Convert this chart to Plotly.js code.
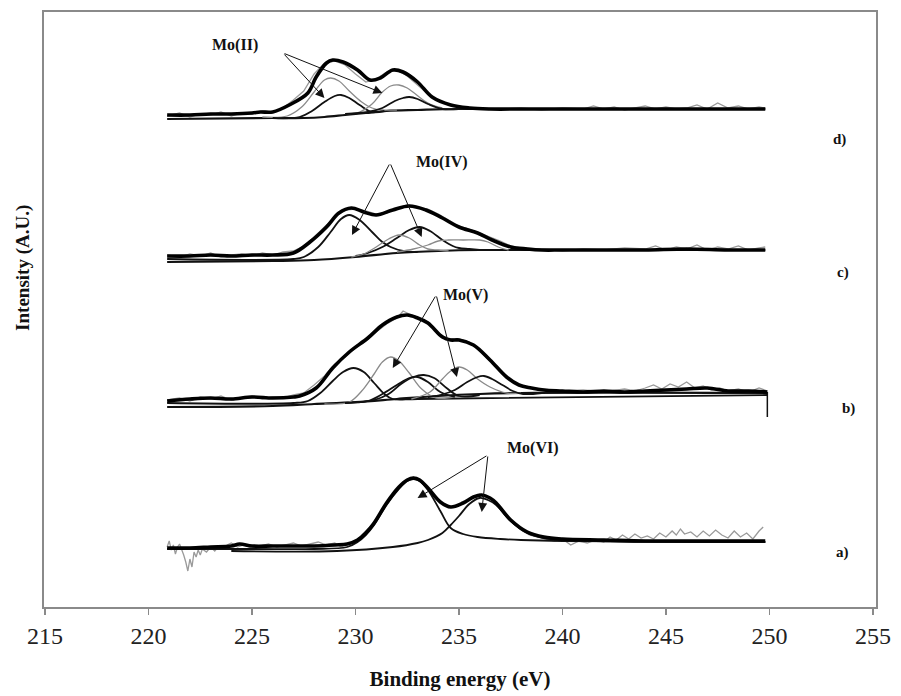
<!DOCTYPE html>
<html>
<head>
<meta charset="utf-8">
<script src="https://cdn.plot.ly/plotly-3.0.1.min.js"></script>
<style>html,body{margin:0;padding:0;background:#fff;}#chart{width:901px;height:696px;}</style>
</head>
<body>
<div id="chart"></div>
<script>
// ---------- spectrum a) Mo(VI) ----------
var aEnvX = [220.9,222,223,224,224.4,225,226,227,228,229,229.6,230.1,230.5,230.9,231.5,232.1,232.5,232.8,233.1,233.5,234.1,234.6,235.2,235.7,236.1,236.5,236.8,237.5,238.3,239.1,240,242,244,246,248,249.8];
var aEnvY = [59,59,60,61,63,61,61,61,61,62,63,67,74,84,104,120,127,129,127,119,105,100,104,110,112,109,104,87,75,70,68,67,66,66,66,66];
var aRawX = [220.9,221.0,221.1,221.2,221.3,221.4,221.5,221.6,221.7,221.8,221.9,222.0,222.1,222.2,222.3,222.4,222.5,222.6,222.8,223.0,223.2,223.4,223.6,223.8,224.0,224.3,224.6,225.0,225.4,225.8,226.2,226.6,227.0,227.4,227.8,228.2,228.6,229.0,229.3,229.6,230.0,230.4,230.8,231.2,231.6,232.0,232.4,232.8,233.2,233.6,234.0,234.4,234.8,235.2,235.6,236.0,236.4,236.8,237.2,237.6,238.0,238.4,238.8,239.2,239.6,240.0,240.4,240.8,241.2,241.6,242.0,242.3,242.6,242.9,243.2,243.5,243.8,244.1,244.4,244.7,245.0,245.3,245.5,245.7,245.9,246.2,246.5,246.8,247.1,247.4,247.7,248.0,248.3,248.6,248.9,249.2,249.5,249.7];
var aRawY = [60,66,57,62,53,60,63,58,52,45,36,48,40,55,50,57,52,58,55,60,56,61,58,62,64,60,62,59,61,63,60,62,64,61,63,65,62,64,60,63,66,74,82,95,106,118,125,130,124,116,106,101,100,104,109,113,110,104,94,84,77,72,70,68,66,68,62,66,64,67,65,70,67,72,68,73,69,71,68,74,70,76,72,78,73,75,70,76,71,77,72,69,76,70,74,68,76,80];
var aC1X = [220.9,225,228,229.6,230.1,230.5,230.9,231.5,232.1,232.5,232.8,233.1,233.5,234.1,234.6,235.2,235.9,237,238,240,249.8];
var aC1Y = [58,58,58,60,65,72,82,102,118,126,128,126,117,96,79,73,70,68,67,66,65];
var aC2X = [224,229.1,231.8,233.0,233.5,234.2,234.6,235.0,235.5,236.0,236.4,236.8,237.5,238.3,239.1,240,249.8];
var aC2Y = [56,56,60,64,67,74,82,91,103,109,107,102,86,74,69,67,65];

// ---------- spectrum b) Mo(V) ----------
var bEnvX = [220.9,222,223,224,225,226,227,227.3,228.1,228.9,229.7,230.6,231.3,232.0,232.5,233.0,233.5,234.2,234.6,235.0,235.7,236.5,237.3,237.9,238.5,239.1,240,241,242,243,244,245,246,247,248,249,249.9];
var bEnvY = [206,208,209,208,210,209,210,211,219,239,255,269,282,290,292,289,284,270,267,267,262,247,230,222,219,217,216,215,216,215,216,217,218,219,216,216,215];
var bRawX = [220.9,221.5,222,222.5,223,223.5,224,224.5,225,225.5,226,226.5,227,227.5,228,228.5,229,229.5,230,230.5,231,231.5,232,232.3,232.6,233,233.5,234,234.5,235,235.5,236,236.5,237,237.5,238,238.5,239,240,241,242,243,243.5,244,244.4,244.8,245.2,245.6,246,246.4,246.8,247.2,247.6,248,248.5,249,249.5,249.9];
var bRawY = [207,209,206,210,208,211,207,209,211,208,210,209,212,214,222,231,243,250,259,266,275,283,289,296,293,290,285,274,268,268,265,256,246,235,226,221,219,218,216,217,215,218,216,219,222,218,223,220,225,219,221,217,219,216,218,215,219,216];
var bDropX = [249.9,249.9];
var bDropY = [215,190];
var bBgX = [220.9,226,228,230,232,234,236,238,249.9];
var bBgY = [200,201,203,205,208,211,213,214,214];
var bC1X = [220.9,227.0,227.7,228.3,228.9,229.4,229.9,230.4,230.9,231.4,231.8,233,249.9];
var bC1Y = [204,204,206,214,226,235,239,235,224,213,208,208,212];
var bC2X = [228.5,229.7,230.3,230.9,231.3,231.7,232.1,232.6,233.2,233.9,235];
var bC2Y = [203,205,216,233,245,250,246,234,218,209,211];
var bC3X = [229.5,230.9,231.6,232.2,232.8,233.3,233.8,234.4,235.0,236];
var bC3Y = [204,207,213,223,230,232,229,219,211,212];
var bC4X = [229.5,230.6,231.3,232.0,232.6,233.0,233.5,234.1,234.8];
var bC4Y = [204,206,213,222,229,230,225,215,210];
var bC5X = [232.7,233.6,234.2,234.6,235.0,235.4,235.9,236.5,237.3,238];
var bC5Y = [208,215,228,236,240,237,228,220,214,214];
var bC6X = [233.5,234.1,234.8,235.4,235.9,236.2,236.6,237.1,237.6,238.1,239];
var bC6Y = [210,212,217,225,230,231,228,222,216,213,214];

// ---------- spectrum c) Mo(IV) ----------
var cEnvX = [220.9,222,223,224,225,226,227.0,227.8,228.6,229.2,229.8,230.4,231.0,231.8,232.6,233.4,234.2,235.0,235.9,236.6,237.5,238.3,239,240,242,244,246,248,249.8];
var cEnvY = [351,351,352,351,352,352,354,365,380,394,399,395,392,397,401,397,389,380,374,367,360,358,357,357,357,357,358,357,357];
var cRawX = [220.9,221.5,222,222.5,223,223.5,224,224.5,225,225.5,226,226.5,227,227.5,228,228.5,229,229.5,230,230.5,231,231.5,232,232.5,233,233.5,234,234.5,235,235.5,236,236.5,237,237.5,238,239,240,241,242,243,244,244.5,245,245.5,246,246.5,247,247.5,248,248.5,249,249.5,249.8];
var cRawY = [352,350,353,351,354,350,352,353,351,354,352,355,356,361,370,380,390,397,398,396,393,394,399,402,400,398,393,387,381,378,374,370,366,361,359,358,356,358,357,359,358,361,357,360,358,362,357,360,358,361,357,359,360];
var cBgX = [220.9,226,228,230,232,234,236,249.8];
var cBgY = [345,346,347,350,354,356,357,357];
var cC1X = [220.9,227.0,227.5,228.2,228.8,229.3,229.7,230.2,230.8,231.3,231.7,232.3,233];
var cC1Y = [348,348,350,360,375,388,392,387,375,365,360,356,355];
var cC2X = [230.0,230.6,231.3,232.0,232.6,233.1,233.6,234.2,234.7,235.0,235.5,236];
var cC2Y = [351,354,360,369,377,380,376,367,361,359,358,357];
var cC3X = [229.8,230.4,231.0,231.6,232.1,232.6,233.1,233.5,234,234.5];
var cC3Y = [350,353,360,368,372,369,362,358,357,356];
var cC4X = [232.0,232.8,233.5,234.0,234.5,235.2,236.0,236.4,236.9,237.4];
var cC4Y = [355,358,362,366,367,367,367,365,360,357];

// ---------- spectrum d) Mo(II) ----------
var dEnvX = [220.9,222,223,224,225,225.4,226.0,226.8,227.7,228.1,228.6,228.9,229.4,230.1,230.7,231.2,231.8,232.3,233.0,233.7,234.6,235.5,236.5,238,240,242,244,246,248,249.8];
var dEnvY = [492,492,493,493,494,495,495,502,514,530,544,547,545,537,527,529,537,535,525,510,502,499,498,498,498,498,498,498,498,498];
var dRawX = [220.9,221.5,222,222.5,223,223.5,224,224.5,225,225.5,226,226.5,227,227.5,228,228.5,229,229.5,230,230.5,231,231.5,232,232.5,233,233.5,234,234.5,235,236,237,238,239,240,241,241.5,242,242.5,243,243.5,244,244.5,245,245.5,246,246.5,247,247.5,248,248.5,249,249.5,249.8];
var dRawY = [491,494,490,493,492,495,491,494,493,496,495,499,507,516,533,544,546,542,533,525,528,535,537,531,522,513,507,503,500,499,498,499,497,499,498,501,498,500,497,499,501,498,500,498,499,502,498,504,499,501,498,500,499];
var dBgX = [220.9,226,227.5,228.5,229.5,230.5,231.5,233,235,249.8];
var dBgY = [488,489,489,490,492,494,496,497,498,498];
var dC1X = [225.5,226.7,227.4,228.0,228.5,228.8,229.2,229.7,230.3,230.8,231.3,232];
var dC1Y = [490,491,500,515,527,529,526,516,505,499,497,497];
var dC2X = [226,227.3,227.9,228.5,229.0,229.3,229.7,230.2,230.8,231.4];
var dC2Y = [489,490,496,505,511,512,509,502,495,496];
var dC3X = [229.5,230.2,230.8,231.3,231.7,232.1,232.5,232.9,233.5,234.2];
var dC3Y = [493,495,503,515,521,522,519,513,504,499];
var dC4X = [229.5,230.6,231.3,231.9,232.3,232.6,233.0,233.5,234.2,235];
var dC4Y = [493,495,499,506,509,510,508,503,498,498];

// ---------- labels ----------
var seriesLabels = ['a)','b)','c)','d)'];
var seriesLabelX = [253.55,253.8,253.55,253.4];
var seriesLabelY = [55,199,335,468];
var stateLabels = ['Mo(VI)','Mo(V)','Mo(IV)','Mo(II)'];
var stateLabelX = [238.6,235.3,234.2,224.2];
var stateLabelY = [159,312,445,562];
// arrows: tail (common origin) and two heads per state
var arrowTailX = [236.4,233.9,231.67,226.5];
var arrowTailY = [152,312,444,554];
var arrowHead1X = [233.0,231.8,229.83,228.5];
var arrowHead1Y = [109,239,372,509];
var arrowHead2X = [236.1,234.9,233.2,231.3];
var arrowHead2Y = [95,230,370,514];

var xTicks = [215,220,225,230,235,240,245,250,255];

// ---------- styles ----------
var RAW = {color:'#9a9a9a', width:1.3};
var GREYC = {color:'#8a8a8a', width:1.3, shape:'spline'};
var BLACKC = {color:'#111', width:1.8, shape:'spline'};
var BG = {color:'#111', width:2.2, shape:'spline'};
var ENV = {color:'#000', width:3.6, shape:'spline'};

function tr(x, y, line) {
  return {x:x, y:y, type:'scatter', mode:'lines', line:line, hoverinfo:'skip', showlegend:false};
}

var traces = [
  tr(aRawX,aRawY,RAW), tr(bRawX,bRawY,RAW), tr(cRawX,cRawY,RAW), tr(dRawX,dRawY,RAW),
  tr(aC1X,aC1Y,BLACKC), tr(aC2X,aC2Y,BLACKC),
  tr(bBgX,bBgY,BG), tr(bC1X,bC1Y,BLACKC), tr(bC2X,bC2Y,GREYC), tr(bC3X,bC3Y,BLACKC), tr(bC4X,bC4Y,BLACKC), tr(bC5X,bC5Y,GREYC), tr(bC6X,bC6Y,BLACKC),
  tr(bDropX,bDropY,{color:'#111',width:1.5}),
  tr(cBgX,cBgY,BG), tr(cC1X,cC1Y,BLACKC), tr(cC2X,cC2Y,BLACKC), tr(cC3X,cC3Y,GREYC), tr(cC4X,cC4Y,GREYC),
  tr(dBgX,dBgY,BG), tr(dC1X,dC1Y,GREYC), tr(dC2X,dC2Y,BLACKC), tr(dC3X,dC3Y,GREYC), tr(dC4X,dC4Y,BLACKC),
  tr(aEnvX,aEnvY,ENV), tr(bEnvX,bEnvY,ENV), tr(cEnvX,cEnvY,ENV), tr(dEnvX,dEnvY,ENV)
];

var FONT = 'Liberation Serif, Times New Roman, serif';
var annotations = [];
for (var i = 0; i < seriesLabels.length; i++) {
  annotations.push({x:seriesLabelX[i], y:seriesLabelY[i], xref:'x', yref:'y', text:'<b>'+seriesLabels[i]+'</b>',
    showarrow:false, font:{family:FONT, size:15, color:'#111'}});
}
for (var j = 0; j < stateLabels.length; j++) {
  annotations.push({x:stateLabelX[j], y:stateLabelY[j], xref:'x', yref:'y', text:'<b>'+stateLabels[j]+'</b>',
    showarrow:false, font:{family:FONT, size:16, color:'#111'}});
  [[arrowHead1X[j],arrowHead1Y[j]],[arrowHead2X[j],arrowHead2Y[j]]].forEach(function(h){
    annotations.push({x:h[0], y:h[1], xref:'x', yref:'y', ax:arrowTailX[j], ay:arrowTailY[j], axref:'x', ayref:'y',
      text:'', showarrow:true, arrowhead:2, arrowsize:1.8, arrowwidth:1, arrowcolor:'#111', standoff:0, startstandoff:0});
  });
}
annotations.push({xref:'paper', yref:'paper', x:-0.0252, y:0.57, text:'<b>Intensity (A.U.)</b>', textangle:-90,
  showarrow:false, font:{family:FONT, size:19, color:'#111'}, xanchor:'center', yanchor:'middle'});

var layout = {
  width:901, height:696,
  margin:{l:44, r:25, t:12, b:89},
  paper_bgcolor:'#fff', plot_bgcolor:'#fff',
  font:{family:FONT, color:'#222'},
  xaxis:{range:[214.95,255.15], tickvals:xTicks, ticks:'outside', ticklen:6, tickwidth:1.5, tickcolor:'#8a8a8a',
    showline:true, mirror:true, linecolor:'#8a8a8a', linewidth:2, showgrid:false, zeroline:false,
    tickfont:{family:FONT, size:24, color:'#222'},
    title:{text:'<b>Binding energy (eV)</b>', font:{family:FONT, size:21, color:'#111'}, standoff:24}},
  yaxis:{range:[0,595], showticklabels:false, ticks:'', showline:true, mirror:true, linecolor:'#8a8a8a', linewidth:2,
    showgrid:false, zeroline:false},
  annotations:annotations,
  showlegend:false
};

Plotly.newPlot('chart', traces, layout, {staticPlot:true, displayModeBar:false});
</script>
</body>
</html>
